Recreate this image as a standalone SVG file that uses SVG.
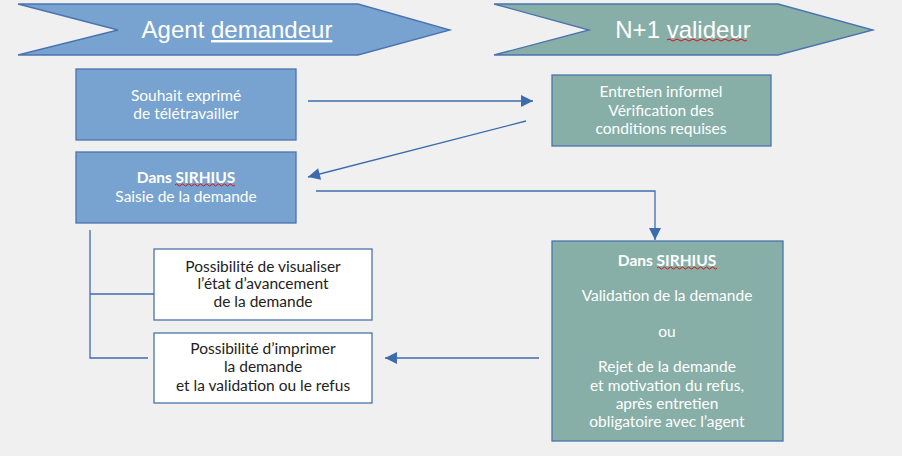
<svg xmlns="http://www.w3.org/2000/svg" width="902" height="456" viewBox="0 0 902 456">
<defs>
<marker id="ahb" viewBox="0 0 10 10" refX="10" refY="5" markerWidth="18" markerHeight="12" markerUnits="userSpaceOnUse" orient="auto">
<path d="M0,0 L10,5 L0,10 z" fill="#3d6cae"/>
</marker>
<style>
.blue{fill:#78a3d0;stroke:#4a74b0;stroke-width:1.3}
.teal{fill:#87afa8;stroke:#4a74b0;stroke-width:1.3}
.white{fill:#ffffff;stroke:#4a74b0;stroke-width:1.3}
.ban{font-family:"Liberation Sans",Arial,sans-serif;font-size:24px;fill:#ffffff;text-anchor:middle}
.t{font-family:Lato,"Liberation Sans",sans-serif;font-size:15.5px;fill:#ffffff;text-anchor:middle}
.d{font-family:Lato,"Liberation Sans",sans-serif;font-size:15.5px;fill:#222222;text-anchor:middle}
.b{font-weight:bold}
.conn{fill:none;stroke:#3d6cae;stroke-width:1.3}
.squig{fill:none;stroke:#e00000;stroke-width:0.9}
</style>
</defs>
<rect width="902" height="456" fill="#f0f0f0"/>
<g id="banner-agent">
<polygon class="blue" points="18,4 358,4 450,30 358,55 18,55 118,30"/>
<text class="ban" x="237" y="38">Agent <tspan text-decoration="underline">demandeur</tspan></text>
</g>
<g id="banner-n1">
<polygon class="teal" points="494,4 778,4 873,30 778,55 494,55 589,30"/>
<text class="ban" x="683" y="38">N+1 valideur</text>
<path class="squig" d="M667,40 q2,-2 4,0 t4,0 t4,0 t4,0 t4,0 t4,0 t4,0 t4,0 t4,0 t4,0 t4,0 t4,0 t4,0 t4,0 t4,0 t4,0 t4,0 t4,0 t4,0 t4,0"/>
</g>
<g id="souhait">
<rect class="blue" x="76" y="69" width="220" height="71"/>
<text class="t" x="186" y="101">Souhait exprimé</text>
<text class="t" x="186" y="119">de télétravailler</text>
</g>
<g id="saisie">
<rect class="blue" x="76" y="152" width="220" height="71"/>
<text class="t" x="186" y="183"><tspan class="b">Dans SIRHIUS</tspan></text>
<path class="squig" d="M175,185 q1.5,-2 3,0 t3,0 t3,0 t3,0 t3,0 t3,0 t3,0 t3,0 t3,0 t3,0 t3,0 t3,0 t3,0 t3,0 t3,0 t3,0 t3,0 t3,0 t3,0 t3,0"/>
<text class="t" x="186" y="202">Saisie de la demande</text>
</g>
<g id="entretien">
<rect class="teal" x="552" y="75" width="219" height="71"/>
<text class="t" x="661" y="97">Entretien informel</text>
<text class="t" x="661" y="116">Vérification des</text>
<text class="t" x="661" y="134">conditions requises</text>
</g>
<g id="validation">
<rect class="teal" x="552" y="241" width="231" height="200"/>
<text class="t" x="667" y="266"><tspan class="b">Dans SIRHIUS</tspan></text>
<path class="squig" d="M657,268 q1.5,-2 3,0 t3,0 t3,0 t3,0 t3,0 t3,0 t3,0 t3,0 t3,0 t3,0 t3,0 t3,0 t3,0 t3,0 t3,0 t3,0 t3,0 t3,0 t3,0 t3,0"/>
<text class="t" x="667" y="301">Validation de la demande</text>
<text class="t" x="667" y="337">ou</text>
<text class="t" x="667" y="372">Rejet de la demande</text>
<text class="t" x="667" y="391">et motivation du refus,</text>
<text class="t" x="667" y="409">après entretien</text>
<text class="t" x="667" y="427">obligatoire avec l’agent</text>
</g>
<g id="visualiser">
<rect class="white" x="154" y="249" width="218" height="71"/>
<text class="d" x="263" y="272">Possibilité de visualiser</text>
<text class="d" x="263" y="289">l’état d’avancement</text>
<text class="d" x="263" y="307">de la demande</text>
</g>
<g id="imprimer">
<rect class="white" x="154" y="333" width="218" height="70"/>
<text class="d" x="263" y="354">Possibilité d’imprimer</text>
<text class="d" x="263" y="372">la demande</text>
<text class="d" x="263" y="391">et la validation ou le refus</text>
</g>
<g id="connectors">
<line class="conn" x1="308" y1="101" x2="533" y2="101" marker-end="url(#ahb)"/>
<line class="conn" x1="526" y1="121" x2="308" y2="177" marker-end="url(#ahb)"/>
<polyline class="conn" points="316,191 655,191 655,240" marker-end="url(#ahb)"/>
<line class="conn" x1="539" y1="358" x2="385" y2="358" marker-end="url(#ahb)"/>
<polyline class="conn" points="90,230 90,358 148,358"/>
<line class="conn" x1="90" y1="294" x2="154" y2="294"/>
</g>
</svg>
